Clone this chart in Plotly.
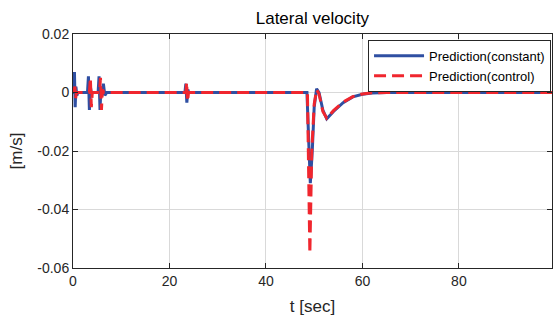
import plotly.graph_objects as go

# Blue: Prediction(constant)
t_const = [0, 0.15, 0.3, 0.45, 0.6, 0.8, 1.0, 3.0, 3.2, 3.4, 3.6, 3.8, 5.2, 5.4, 5.6, 5.8, 6.0, 6.3, 6.6, 7.0,
           23.2, 23.4, 23.6, 23.8, 24.0, 48.5, 48.9, 49.2, 49.6, 50.0, 50.5, 51.0, 51.8, 52.6, 54.0, 56.0, 58.0, 60.0, 62.0, 65.0, 99.3]
v_const = [0, 0, 0.007, -0.005, 0.002, -0.001, 0, 0, 0.0055, -0.006, 0.002, 0, 0, 0.0055, -0.006, 0.002, -0.001, 0.003, -0.001, 0,
           0, 0.003, -0.0035, 0.001, 0, 0, -0.018, -0.031, -0.02, -0.005, 0.0013, 0.0, -0.006, -0.009, -0.0065, -0.0035, -0.0015, -0.0006, -0.0002, 0, 0]

# Red: Prediction(control)
t_ctrl = [0, 0.4, 0.55, 0.7, 3.4, 3.6, 3.8, 4.0, 5.5, 5.7, 5.9, 6.1, 6.4,
          23.4, 23.55, 23.75, 23.95, 48.6, 49.1, 49.5, 50.0, 50.5, 51.0, 51.8, 52.6, 54.0, 56.0, 58.0, 60.0, 62.0, 65.0, 99.3]
v_ctrl = [0, 0.002, -0.002, 0, 0, 0.005, -0.005, 0, 0, 0.005, -0.006, 0.001, 0,
          0, 0.0035, -0.003, 0, 0, -0.055, -0.02, -0.004, 0.001, -0.0005, -0.0065, -0.0088, -0.0062, -0.0033, -0.0014, -0.0005, -0.0001, 0, 0]

x_ticks = [0, 20, 40, 60, 80]
y_ticks = [0.02, 0, -0.02, -0.04, -0.06]
y_tick_labels = ["0.02", "0", "-0.02", "-0.04", "-0.06"]

fig = go.Figure()
fig.add_trace(go.Scatter(x=t_const, y=v_const, mode="lines", name="Prediction(constant)",
                         line=dict(color="#2f4fa2", width=3)))
fig.add_trace(go.Scatter(x=t_ctrl, y=v_ctrl, mode="lines", name="Prediction(control)",
                         line=dict(color="#f0262e", width=3, dash="12px,6px")))

font = "Liberation Sans, Arial, sans-serif"
fig.update_layout(
    width=553, height=323,
    margin=dict(l=73, r=1, t=34, b=55),
    paper_bgcolor="white", plot_bgcolor="white",
    font=dict(family=font, size=14, color="#262626"),
    title=dict(text="Lateral velocity", x=0.565, xanchor="center", y=0.945, yanchor="middle",
               font=dict(size=17, color="black")),
    showlegend=True,
    legend=dict(x=0.998, xanchor="right", y=0.975, yanchor="top",
                bgcolor="white", bordercolor="#262626", borderwidth=1,
                font=dict(size=13, color="black"), itemwidth=50,
                tracegroupgap=0),
    xaxis=dict(range=[0, 99.3], tickvals=x_ticks, ticks="inside", ticklen=5, tickcolor="#262626",
               showgrid=True, gridcolor="#d9d9d9", gridwidth=1,
               showline=True, linecolor="#262626", linewidth=1, mirror="ticks",
               zeroline=False, title=dict(text="t [sec]", standoff=12, font=dict(size=17))),
    yaxis=dict(range=[-0.06, 0.02], tickvals=y_ticks, ticktext=y_tick_labels, ticks="inside", ticklen=5,
               tickcolor="#262626",
               showgrid=True, gridcolor="#d9d9d9", gridwidth=1,
               showline=True, linecolor="#262626", linewidth=1, mirror="ticks",
               zeroline=False, title=dict(text="[m/s]", standoff=10, font=dict(size=17))),
)

fig.write_html("out.html")
